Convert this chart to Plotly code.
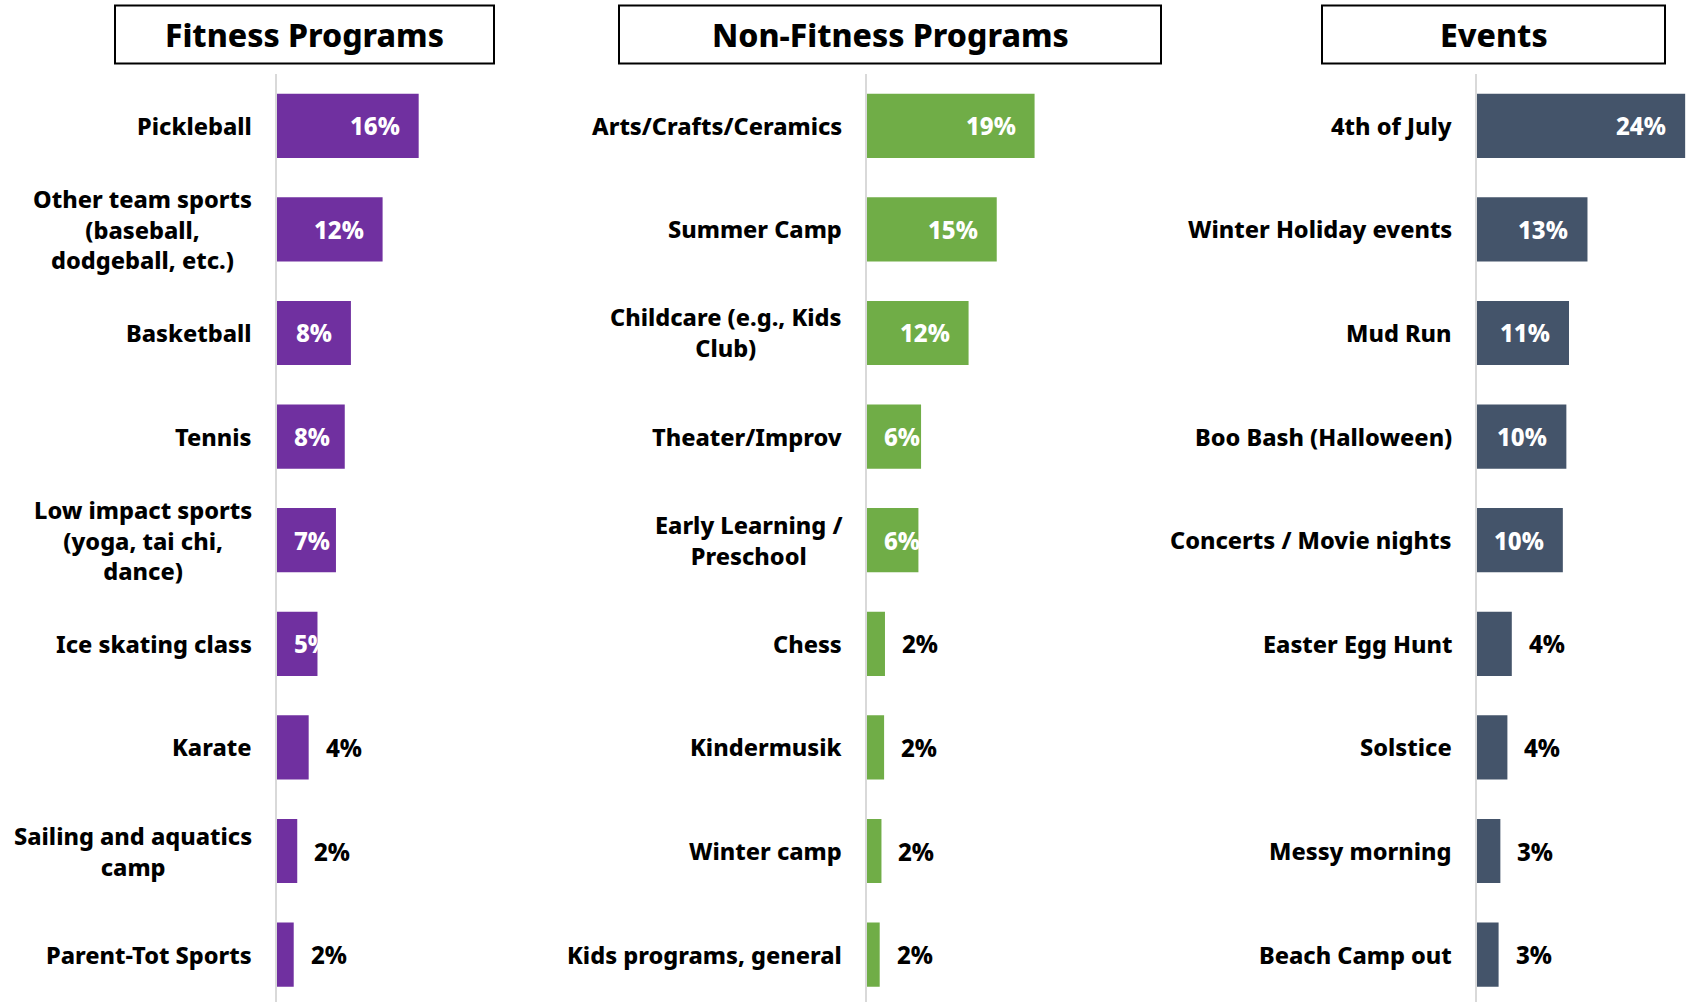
import plotly.graph_objects as go

# ---------------- data ----------------
fitness_cats = [
    "Pickleball",
    "Other team sports<br>(baseball,<br>dodgeball, etc.)",
    "Basketball",
    "Tennis",
    "Low impact sports<br>(yoga, tai chi,<br>dance)",
    "Ice skating class",
    "Karate",
    "Sailing and aquatics<br>camp",
    "Parent-Tot Sports",
]
fitness_vals = [16.1, 12.0, 8.4, 7.7, 6.7, 4.6, 3.6, 2.3, 1.9]
fitness_labels = ["16%", "12%", "8%", "8%", "7%", "5%", "4%", "2%", "2%"]

nonfit_cats = [
    "Arts/Crafts/Ceramics",
    "Summer Camp",
    "Childcare (e.g., Kids<br>Club)",
    "Theater/Improv",
    "Early Learning /<br>Preschool",
    "Chess",
    "Kindermusik",
    "Winter camp",
    "Kids programs, general",
]
nonfit_vals = [19.1, 14.8, 11.6, 6.2, 5.9, 2.1, 2.0, 1.7, 1.5]
nonfit_labels = ["19%", "15%", "12%", "6%", "6%", "2%", "2%", "2%", "2%"]

events_cats = [
    "4th of July",
    "Winter Holiday events",
    "Mud Run",
    "Boo Bash (Halloween)",
    "Concerts / Movie nights",
    "Easter Egg Hunt",
    "Solstice",
    "Messy morning",
    "Beach Camp out",
]
events_vals = [23.7, 12.6, 10.5, 10.2, 9.8, 4.0, 3.5, 2.7, 2.5]
events_labels = ["24%", "13%", "11%", "10%", "10%", "4%", "4%", "3%", "3%"]

panel_titles = ["Fitness Programs", "Non-Fitness Programs", "Events"]
panel_colors = ["#7030A0", "#70AD47", "#44546A"]

# ---------------- layout constants (pixels) ----------------
W, H = 1690, 1002
FONT = "Tahoma, 'Noto Sans', 'DejaVu Sans', sans-serif"
WEIGHT = 800
PPU = 8.8              # pixels per percentage point
AXIS_X = [277, 866.5, 1476.6]
AXIS_R = [600, 1200, 1690]
PLOT_TOP = 74
PITCH = 103.6          # pixels per category
BOX = [(115, 494), (619, 1161), (1322, 1665)]
BOX_Y = (5.5, 63.5)

panels = [
    (fitness_cats, fitness_vals, fitness_labels),
    (nonfit_cats, nonfit_vals, nonfit_labels),
    (events_cats, events_vals, events_labels),
]

fig = go.Figure()
annotations = []
shapes = []

n_vis = (H - PLOT_TOP) / PITCH
y_range = [-0.5 + n_vis, -0.5]
y_dom = [0, (H - PLOT_TOP) / H]

for i, (cats, vals, labels) in enumerate(panels):
    sfx = "" if i == 0 else str(i + 1)
    xa, ya = "x" + sfx, "y" + sfx
    fig.add_trace(go.Bar(
        x=vals, y=cats, orientation="h", width=0.62,
        marker=dict(color=panel_colors[i], line=dict(width=0)),
        xaxis=xa, yaxis=ya, hoverinfo="skip",
    ))
    x_dom = [AXIS_X[i] / W, AXIS_R[i] / W]
    x_max = (AXIS_R[i] - AXIS_X[i]) / PPU
    fig.layout["xaxis" + sfx] = dict(domain=x_dom, range=[0, x_max], visible=False,
                                     anchor=ya, fixedrange=True)
    fig.layout["yaxis" + sfx] = dict(domain=y_dom, range=y_range, type="category",
                                     categoryorder="array", categoryarray=cats,
                                     showticklabels=False, ticks="", showgrid=False,
                                     showline=True, linecolor="#d9d9d9", linewidth=2,
                                     anchor=xa, fixedrange=True, zeroline=False)
    # category labels
    for c in cats:
        annotations.append(dict(
            x=0, xref=xa + " domain", y=c, yref=ya, xanchor="right", yanchor="middle",
            xshift=-23, text=c, showarrow=False, align="center",
            font=dict(family=FONT, size=23.5, color="black", weight=WEIGHT),
        ))
    # value labels
    for c, v, lab in zip(cats, vals, labels):
        num = float(lab.rstrip("%"))
        if num >= 5:
            est_w = 13 * (len(lab) - 1) + 26
            right_px = v * PPU - 17
            if right_px - est_w < 15:
                ax, anc, sh = 0, "left", 15
            else:
                ax, anc, sh = v, "right", -17
            color = "white"
        else:
            ax, anc, sh, color = v, "left", 15, "black"
        annotations.append(dict(
            x=ax, xref=xa, y=c, yref=ya, xanchor=anc, yanchor="middle", xshift=sh,
            text=lab, showarrow=False,
            font=dict(family=FONT, size=24, color=color, weight=WEIGHT),
        ))
    # title box
    x0, x1 = BOX[i]
    shapes.append(dict(type="rect", xref="paper", yref="paper",
                       x0=x0 / W, x1=x1 / W, y0=1 - BOX_Y[1] / H, y1=1 - BOX_Y[0] / H,
                       line=dict(color="black", width=2), fillcolor="white", layer="above"))
    annotations.append(dict(
        x=(x0 + x1) / 2 / W, y=1 - (BOX_Y[0] + BOX_Y[1]) / 2 / H, xref="paper", yref="paper",
        xanchor="center", yanchor="middle", text=panel_titles[i], showarrow=False,
        font=dict(family=FONT, size=32, color="black", weight=WEIGHT),
    ))

fig.update_layout(
    width=W, height=H, margin=dict(l=0, r=0, t=0, b=0, pad=0),
    plot_bgcolor="white", paper_bgcolor="white", showlegend=False,
    annotations=annotations, shapes=shapes,
)

fig.write_html(
    "out.html",
    config={"displayModeBar": False, "staticPlot": False},
    post_script="document.body.style.margin='0';document.body.style.overflow='hidden';",
)
